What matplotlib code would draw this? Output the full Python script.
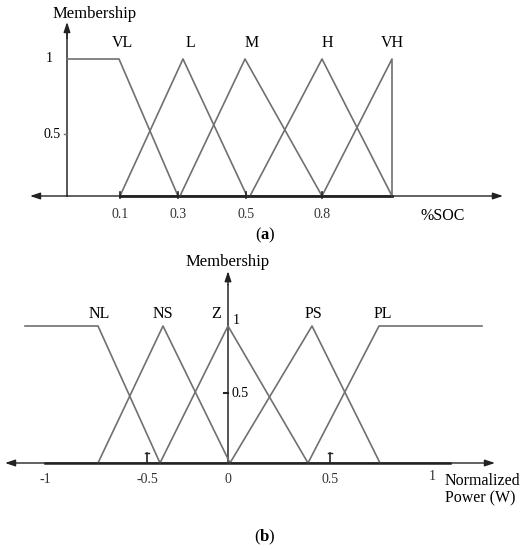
#!/usr/bin/env python3
"""
Fuzzy membership functions: (a) battery SOC, (b) normalized power.
"""

import matplotlib.pyplot as plt

plt.rcParams['font.family'] = ['Liberation Serif', 'DejaVu Serif']
plt.rcParams['mathtext.fontset'] = 'custom'
plt.rcParams['mathtext.bf'] = 'Liberation Serif:bold'

# ---- panel (a): SOC membership functions (x = position on drawn axis) ----
soc_names = ['VL', 'L', 'M', 'H', 'VH']
soc_x = [[67, 119, 178], [120, 183, 247], [180, 245, 322],
         [250, 322, 392], [322, 392, 392]]
soc_mu = [[1, 1, 0], [0, 1, 0], [0, 1, 0], [0, 1, 0], [0, 1, 0]]
soc_label_x = [122, 190, 252, 327, 392]
soc_tick_pos = [120, 178, 246, 322]
soc_tick_labels = ['0.1', '0.3', '0.5', '0.8']

# ---- panel (b): normalized power membership functions ----
pow_names = ['NL', 'NS', 'Z', 'PS', 'PL']
pow_x = [[25, 98, 160], [98, 163, 230], [160, 228, 308],
         [230, 312, 380], [308, 379, 482]]
pow_mu = [[1, 1, 0], [0, 1, 0], [0, 1, 0], [0, 1, 0], [0, 1, 1]]
pow_label_x = [99, 163, 216, 313, 383]
pow_tick_pos = [45, 147, 228, 330, 432]
pow_tick_labels = ['-1', '-0.5', '0', '0.5', '1']

W, H = 529, 550
LINE = '#707070'
AXIS = '#222222'

fig = plt.figure(figsize=(W / 100, H / 100), dpi=100)


def make_axes(top, bottom, base_row, one_row):
    """Axes spanning rows top..bottom, membership 0 at base_row, 1 at one_row."""
    ax = fig.add_axes([0, 1 - bottom / H, 1, (bottom - top) / H])
    scale = base_row - one_row
    ax.set_xlim(0, W)
    ax.set_ylim((base_row - bottom) / scale, (base_row - top) / scale)
    ax.axis('off')
    return ax


def arrow(ax, start, tip):
    ax.annotate('', xy=tip, xytext=start,
                arrowprops=dict(arrowstyle='-|>,head_length=0.6,head_width=0.2',
                                color=AXIS, lw=1.0, shrinkA=0, shrinkB=0))


# ---------------- (a) ----------------
ax = make_axes(0, 250, 196, 59)
y0 = 67
arrow(ax, (y0, 0), (30, 0))
arrow(ax, (y0, 0), (503, 0))
ax.plot([120, 392], [0, 0], color=AXIS, lw=2.0)
ax.plot([y0, y0], [0, 1.2], color='#555555', lw=1.4)
arrow(ax, (y0, 1.15), (y0, 1.27))
for xs, mus in zip(soc_x, soc_mu):
    ax.plot(xs, mus, color=LINE, lw=1.2)
for name, lx in zip(soc_names, soc_label_x):
    ax.text(lx, 1.06, name, ha='center', va='bottom', fontsize=11.5)
for p, t in zip(soc_tick_pos, soc_tick_labels):
    ax.plot([p, p], [-0.015, 0.03], color=AXIS, lw=1.2)
    ax.text(p, -0.085, t, ha='center', va='top', fontsize=10, color='#333333')
ax.plot([y0 - 3, y0], [0.45, 0.45], color=LINE, lw=1)
ax.text(y0 - 6, 0.45, '0.5', ha='right', va='center', fontsize=10)
ax.text(y0 - 14, 1.0, '1', ha='right', va='center', fontsize=10)
ax.text(95, 1.33, 'Membership', ha='center', va='center', fontsize=12)
ax.text(443, -0.085, '%SOC', ha='center', va='top', fontsize=11.5)
ax.text(265, -0.29, r'($\mathbf{a}$)', ha='center', va='center', fontsize=12)

# ---------------- (b) ----------------
ax = make_axes(250, 550, 463, 326)
y0 = 228
arrow(ax, (y0, 0), (5, 0))
arrow(ax, (y0, 0), (495, 0))
ax.plot([45, 450], [0, 0], color=AXIS, lw=1.8)
ax.plot([y0, y0], [0, 1.3], color='#555555', lw=1.4)
arrow(ax, (y0, 1.3), (y0, 1.40))
for xs, mus in zip(pow_x, pow_mu):
    ax.plot(xs, mus, color=LINE, lw=1.2)
for name, lx in zip(pow_names, pow_label_x):
    ax.text(lx, 1.03, name, ha='center', va='bottom', fontsize=11.5)
for p, t in zip(pow_tick_pos, pow_tick_labels):
    if t in ('-0.5', '0.5'):
        ax.plot([p, p], [0, 0.07], color=AXIS, lw=1.2)
        ax.plot([p - 2, p + 2], [0.07, 0.07], color=AXIS, lw=1)
    dy = 0.02 if t == '1' else 0
    ax.text(p, -0.07 + dy, t, ha='center', va='top', fontsize=10,
            color='#333333')
ax.plot([y0 - 4, y0], [0.51, 0.51], color=AXIS, lw=1.5)
ax.text(y0 + 3, 0.51, '0.5', ha='left', va='center', fontsize=10)
ax.text(y0 + 5, 1.04, '1', ha='left', va='center', fontsize=10)
ax.text(y0, 1.467, 'Membership', ha='center', va='center', fontsize=12)
ax.text(445, -0.07, 'Normalized\nPower (W)', ha='left', va='top',
        fontsize=11.5, linespacing=1.15)
ax.text(265, -0.54, r'($\mathbf{b}$)', ha='center', va='center', fontsize=12)

fig.savefig('out.png', dpi=100)
